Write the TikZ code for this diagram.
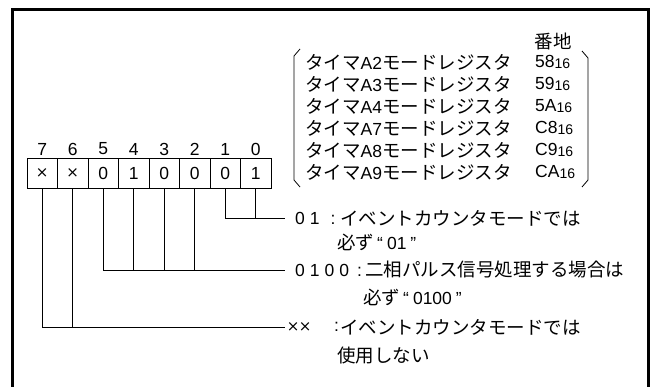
\documentclass[tikz,border=0pt]{standalone}
\usepackage{fontspec}
\setmainfont{Noto Sans CJK JP}
\newfontfamily\lat{Liberation Sans}
\newfontfamily\sym{DejaVu Sans}
\newcommand\myLat[1]{{\lat\fontsize{17.5}{17.5}\selectfont #1}}
\newcommand\hexv[2]{{\lat\fontsize{17.5}{17.5}\selectfont #1\raisebox{-1.5pt}{\fontsize{14}{14}\selectfont #2}}}
\newcommand\crs{{\sym\fontsize{15}{15}\selectfont ×}}
\begin{document}
\begin{tikzpicture}[x=1pt,y=-1pt,
  cell/.style={draw, line width=0.8pt, minimum width=30.5pt, minimum height=30pt, inner sep=0pt, font=\lat\fontsize{17.5}{17.5}\selectfont},
  bitnum/.style={inner sep=0pt, font=\lat\fontsize{17.5}{17.5}\selectfont},
  jp/.style={inner sep=0pt, anchor=west, font=\fontsize{18.5}{18.5}\selectfont},
  conn/.style={line width=0.8pt},
  brk/.style={line width=0.8pt},
  frame/.style={line width=3pt}]
\useasboundingbox (0,0) rectangle (655,387);
\draw[frame] (12.5,390) -- (12.5,10) -- (648,10) -- (648,390);

% register cells
\node[cell] (c7) at (42.25,173) {\crs};
\node[cell] (c6) at (72.75,173) {\crs};
\node[cell] (c5) at (103.25,173) {0};
\node[cell] (c4) at (133.75,173) {1};
\node[cell] (c3) at (164.25,173) {0};
\node[cell] (c2) at (194.75,173) {0};
\node[cell] (c1) at (225.25,173) {0};
\node[cell] (c0) at (255.75,173) {1};

\node[bitnum] (n7) at (42.25,149) {7};
\node[bitnum] (n6) at (72.75,149) {6};
\node[bitnum] (n5) at (103.25,149) {5};
\node[bitnum] (n4) at (133.75,149) {4};
\node[bitnum] (n3) at (164.25,149) {3};
\node[bitnum] (n2) at (194.75,149) {2};
\node[bitnum] (n1) at (225.25,149) {1};
\node[bitnum] (n0) at (255.75,149) {0};

% connectors
\coordinate (e1) at (285,218);
\draw[conn] (c1.south) |- (e1);
\draw[conn] (c0.south) -- (c0.south |- e1);
\coordinate (e2) at (285,270);
\draw[conn] (c5.south) |- (e2);
\foreach \c in {c4,c3,c2} \draw[conn] (\c.south) -- (\c.south |- e2);
\coordinate (e3) at (285,327);
\draw[conn] (c7.south) |- (e3);
\draw[conn] (c6.south) -- (c6.south |- e3);

% descriptions
\node[jp] (p1) at (295,218) {\myLat{0\hspace{5pt}1\hspace{11pt}:}};
\node[jp] (b1) at (340,218) {イベントカウンタモードでは};
\node[jp] (b1b) at (337,242) {必ず\myLat{\hspace{3pt}“\hspace{4pt}01\hspace{4pt}”}};
\node[jp] (p2) at (295,270) {\myLat{0\hspace{5pt}1\hspace{5pt}0\hspace{5pt}0\hspace{8pt}:}};
\node[jp] (b2) at (365,270) {二相パルス信号処理する場合は};
\node[jp] (b2b) at (363,297) {必ず\myLat{\hspace{3pt}“\hspace{4pt}0100\hspace{4pt}”}};
\node[jp] (p3) at (287,327) {\makebox[12pt]{\crs}\makebox[12pt]{\crs}\hspace{23pt}\myLat{:}};
\node[jp] (b3) at (340,327) {イベントカウンタモードでは};
\node[jp] (b3b) at (337,355) {使用しない};

% register list
\node[inner sep=0pt, font=\fontsize{18.5}{18.5}\selectfont] (addr) at (553,41) {番地};
\node[jp] (r1) at (305,62) {タイマ\myLat{A2}モードレジスタ};
\node[jp] (r2) at (305,84) {タイマ\myLat{A3}モードレジスタ};
\node[jp] (r3) at (305,106) {タイマ\myLat{A4}モードレジスタ};
\node[jp] (r4) at (305,128) {タイマ\myLat{A7}モードレジスタ};
\node[jp] (r5) at (305,150) {タイマ\myLat{A8}モードレジスタ};
\node[jp] (r6) at (305,172) {タイマ\myLat{A9}モードレジスタ};
\node[jp] (a1) at (535,62) {\hexv{58}{16}};
\node[jp] (a2) at (535,84) {\hexv{59}{16}};
\node[jp] (a3) at (535,106) {\hexv{5A}{16}};
\node[jp] (a4) at (535,128) {\hexv{C8}{16}};
\node[jp] (a5) at (535,150) {\hexv{C9}{16}};
\node[jp] (a6) at (535,172) {\hexv{CA}{16}};

% brackets
\draw[brk] (300,49) -- (294,56) -- (294,180) -- (300,187);
\draw[brk] (582,51) -- (588,58) -- (588,180) -- (582,187);
\end{tikzpicture}
\end{document}
